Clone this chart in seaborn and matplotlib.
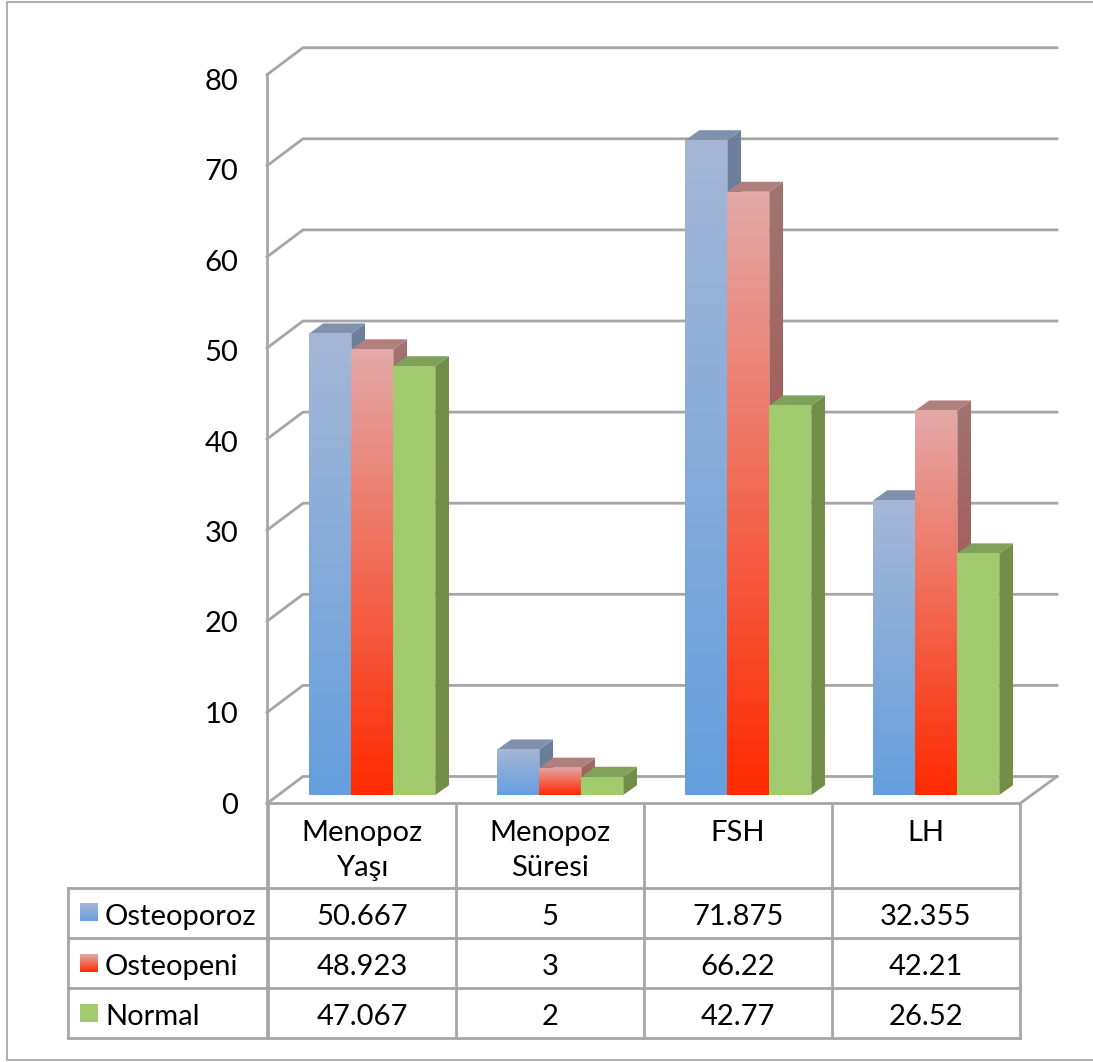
import numpy as np
import pandas as pd
import matplotlib
matplotlib.use("Agg")
import matplotlib.pyplot as plt
from matplotlib.colors import to_rgb
from matplotlib.patches import Polygon, Rectangle
from matplotlib.transforms import ScaledTranslation
import seaborn as sns

# Study measurements by bone-density group
categories = ["Menopoz\nYaşı", "Menopoz\nSüresi", "FSH", "LH"]
groups = ["Osteoporoz", "Osteopeni", "Normal"]
osteoporoz = [50.667, 5, 71.875, 32.355]
osteopeni = [48.923, 3, 66.22, 42.21]
normal = [47.067, 2, 42.77, 26.52]
value_ticks = [0, 10, 20, 30, 40, 50, 60, 70, 80]

W, H, DPI = 1093, 1062, 100
GRID = "#a6a6a6"
BAR_BASE, UNIT = 795.0, 9.11         # pixel row of value 0 on the bar plane, pixels per unit
CAT_LEFT, CAT_W = 268.0, 188.0       # table column origin and category width in pixels
BAR_SHIFT = 10.3                     # bars stand this far right of the column centres
BACK_DX, BACK_DY = 36, 27            # floor depth
SIDE_DX, SIDE_DY = 14, 10            # bar depth
FONT = 21.0

# (front top, front bottom), (side top, side bottom), top face
styles = {
    "Osteoporoz": (("#a5b7d6", "#659fde"), ("#6f809b", "#5f7c9f"), "#8091ad"),
    "Osteopeni": (("#e3a9a8", "#ff2a00"), ("#a07472", "#a9413a"), "#b07f7e"),
    "Normal": (("#a2cb6e", "#a2cb6e"), ("#738e48", "#738e48"), "#80a15a"),
}

sns.set_theme(style="white")
plt.rcParams["font.family"] = ["Lato", "DejaVu Sans"]
plt.rcParams["text.color"] = "black"
plt.rcParams["xtick.color"] = "black"
plt.rcParams["ytick.color"] = "black"

fig = plt.figure(figsize=(W / DPI, H / DPI), dpi=DPI, facecolor="white")

# Pixel-addressed layer for the chart walls and the data table
frame = fig.add_axes([0, 0, 1, 1], zorder=0)
frame.set_xlim(0, W)
frame.set_ylim(H, 0)
frame.axis("off")

# Data layer: categories span the table columns, the bottom edge is the bar baseline
top_px = 40.0
ax = fig.add_axes(
    [(CAT_LEFT + BAR_SHIFT) / W, 1 - BAR_BASE / H, 4 * CAT_W / W, (BAR_BASE - top_px) / H],
    zorder=1,
)
ax.patch.set_alpha(0)

records = pd.DataFrame(
    {
        "category": np.tile(categories, 3),
        "group": np.repeat(groups, 4),
        "value": osteoporoz + osteopeni + normal,
    }
)
sns.barplot(
    data=records, x="category", y="value", hue="group", hue_order=groups,
    order=categories, width=0.67, gap=0, dodge=True, legend=False, errorbar=None,
    palette=[styles[g][0][1] for g in groups], ax=ax, linewidth=0,
)
ax.set_xlim(-0.5, 3.5)
ax.set_ylim(0, (BAR_BASE - top_px) / UNIT)
ax.set_xlabel("")
ax.set_ylabel("")
sns.despine(ax=ax, left=True, bottom=True)

ax.set_yticks(value_ticks)
ax.tick_params(axis="y", length=0, pad=29, labelsize=FONT)
# Axis labels sit a little below the front edge of the left wall
for label, v in zip(ax.get_yticklabels(), value_ticks):
    shift = ScaledTranslation(0, -(10.5 + 0.06 * v) / DPI, fig.dpi_scale_trans)
    label.set_transform(label.get_transform() + shift)
    label.set_verticalalignment("center")

ax.set_xticks(range(len(categories)))
ax.set_xticklabels(categories, linespacing=1.44)
ax.tick_params(axis="x", length=0, pad=18, labelsize=FONT)
# Category names are centred over the table columns, not over the bars
for label in ax.get_xticklabels():
    shift = ScaledTranslation(-BAR_SHIFT / DPI, 0, fig.dpi_scale_trans)
    label.set_transform(label.get_transform() + shift)


def vertical_gradient(color_top, color_bottom, extent, clip, z):
    ramp = np.linspace(to_rgb(color_top), to_rgb(color_bottom), 256)[:, None, :]
    im = ax.imshow(ramp, extent=extent, aspect="auto", origin="upper",
                   interpolation="bilinear", zorder=z)
    im.set_clip_path(clip)
    return im


# Shade every bar as a box: front face, side face and top face
dx = SIDE_DX / CAT_W
dy = SIDE_DY / UNIT
bars = [p for p in ax.patches if p.get_height() > 0]
owners = [g for g in groups for _ in categories]
order = np.argsort([p.get_x() for p in bars])
for rank, i in enumerate(order):
    bar = bars[i]
    front, side, cap = styles[owners[i]]
    x0, x1 = bar.get_x(), bar.get_x() + bar.get_width()
    v = bar.get_height()
    z = 3 + rank * 0.01
    bar.set_zorder(z + 0.003)
    side_poly = Polygon([(x1, 0), (x1 + dx, dy), (x1 + dx, v + dy), (x1, v)],
                        transform=ax.transData)
    vertical_gradient(side[0], side[1], (x1, x1 + dx, 0, v + dy), side_poly, z)
    ax.add_patch(Polygon([(x0, v), (x0 + dx, v + dy), (x1 + dx, v + dy), (x1, v)],
                         facecolor=cap, edgecolor="none", zorder=z + 0.001))
    front_rect = Rectangle((x0, 0), x1 - x0, v, transform=ax.transData)
    vertical_gradient(front[0], front[1], (x0, x1, 0, v), front_rect, z + 0.005)
ax.set_xlim(-0.5, 3.5)
ax.set_ylim(0, (BAR_BASE - top_px) / UNIT)

# Walls and floor
wall_x = CAT_LEFT - 1
front_base = BAR_BASE + 8.5
right_x = CAT_LEFT + 4 * CAT_W
line_kw = dict(color=GRID, lw=2.0, solid_capstyle="projecting", zorder=1)
for v in value_ticks:
    yf = front_base - UNIT * v
    yb = yf - BACK_DY
    frame.plot([wall_x, wall_x + BACK_DX, W - BACK_DX], [yf, yb, yb], **line_kw)
frame.plot([wall_x, wall_x], [front_base - UNIT * value_ticks[-1], 1038], **line_kw)
frame.plot([wall_x, right_x, W - BACK_DX], [front_base, front_base, front_base - BACK_DY], **line_kw)

# Data table under the plot
row_lines = [888, 938, 988, 1038]
row_centres = [917, 967, 1017]
for i in range(5):
    x = CAT_LEFT + i * CAT_W
    frame.plot([x, x], [front_base, row_lines[-1]], **line_kw)
for y in row_lines:
    frame.plot([68, right_x], [y, y], **line_kw)
frame.plot([68, 68], [row_lines[0], row_lines[-1]], **line_kw)

columns = [osteoporoz, osteopeni, normal]
key_tops = [903, 954, 1004]
for row, group in enumerate(groups):
    yc = row_centres[row]
    frame.text(105, yc, group, fontsize=FONT, ha="left", va="center")
    ramp = np.linspace(to_rgb(styles[group][0][0]), to_rgb(styles[group][0][1]), 64)[:, None, :]
    frame.imshow(ramp, extent=(80, 98, key_tops[row] + 18, key_tops[row]), aspect="auto",
                 origin="upper", interpolation="bilinear", zorder=2)
    for col, value in enumerate(columns[row]):
        frame.text(CAT_LEFT + (col + 0.5) * CAT_W, yc, f"{value:g}",
                   fontsize=FONT, ha="center", va="center")
frame.set_xlim(0, W)
frame.set_ylim(H, 0)

# Outer chart border
frame.plot([W, 7, 7, W], [2, 2, 1060, 1060], color="#a0a0a0", lw=1.2, zorder=1)

fig.savefig("out.png", dpi=DPI, facecolor="white")
